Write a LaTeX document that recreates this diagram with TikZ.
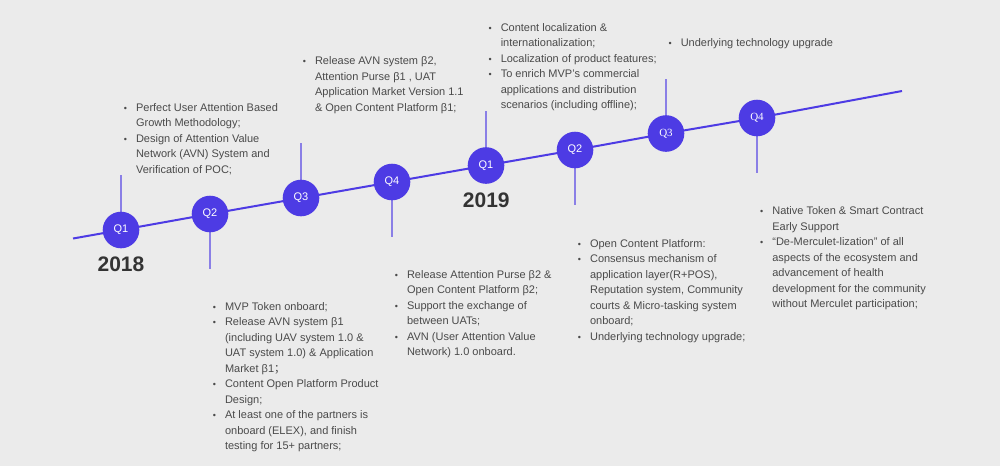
\documentclass[tikz,border=0pt]{standalone}
\usepackage{fontspec}
\setmainfont{Liberation Sans}
\newfontfamily\cjk{Noto Sans CJK SC}
\newfontfamily\serifq{Liberation Serif}
\usetikzlibrary{backgrounds}
\definecolor{bgc}{HTML}{EBEBEB}
\definecolor{qfill}{HTML}{4D3BE4}
\definecolor{linec}{HTML}{4D3BE4}
\definecolor{stemc}{HTML}{8A7FE6}
\definecolor{txt}{HTML}{4A4A4A}
\definecolor{yearc}{HTML}{333333}
\newcommand\bul{{\fontsize{9}{9}\selectfont\textbullet}}
\newcommand\blist[1]{\begin{tabular}[t]{@{}l@{\hspace{9.1pt}}l@{}}#1\end{tabular}}
\tikzset{
  qnode/.style={circle, fill=qfill, text=white, minimum size=36.6pt, inner sep=0pt, font=\fontsize{11}{13}\selectfont},
  stemline/.style={draw=stemc, line width=1.3pt},
  mainline/.style={draw=linec, line width=2pt},
  blk/.style={anchor=base west, inner sep=0pt, text=txt, font=\fontsize{11}{15.5}\selectfont},
  yearlbl/.style={anchor=base, inner sep=0pt, text=yearc, font=\bfseries\fontsize{21}{25}\selectfont}
}
\begin{document}
\begin{tikzpicture}[x=1pt,y=-1pt]
\useasboundingbox (0,0) rectangle (1000,466);
% circles
\node[qnode] (a1) at (121,230) {Q1};
\node[qnode] (a2) at (210,214) {Q2};
\node[qnode] (a3) at (301,198) {Q3};
\node[qnode] (a4) at (392,182) {Q4};
\node[qnode] (b1) at (486,165.5) {Q1};
\node[qnode] (b2) at (575,150) {Q2};
\node[qnode, font=\serifq\fontsize{11}{13}\selectfont] (b3) at (666,133.5) {Q3};
\node[qnode, font=\serifq\fontsize{11}{13}\selectfont] (b4) at (757,118) {Q4};
\coordinate (s) at (73,238.5);
\coordinate (e) at (902,91);
\coordinate (a1t) at (121,175);
\coordinate (a2t) at (210,269);
\coordinate (a3t) at (301,143);
\coordinate (a4t) at (392,237);
\coordinate (b1t) at (486,111);
\coordinate (b2t) at (575,205);
\coordinate (b3t) at (666,79);
\coordinate (b4t) at (757,173);
\begin{scope}[on background layer]
\fill[bgc] (0,0) rectangle (1000,466);
\draw[stemline] (a1.center) -- (a1t);
\draw[stemline] (a2.center) -- (a2t);
\draw[stemline] (a3.center) -- (a3t);
\draw[stemline] (a4.center) -- (a4t);
\draw[stemline] (b1.center) -- (b1t);
\draw[stemline] (b2.center) -- (b2t);
\draw[stemline] (b3.center) -- (b3t);
\draw[stemline] (b4.center) -- (b4t);
\draw[mainline] (s) -- (a1.center) -- (a2.center) -- (a3.center) -- (a4.center) -- (b1.center) -- (b2.center) -- (b3.center) -- (b4.center) -- (e);
\end{scope}
% years
\node[yearlbl] (y18) at (121,271) {2018};
\node[yearlbl] (y19) at (486.3,207) {2019};
% text blocks
\node[blk] (t1) at (123.6,111) {\blist{%
\bul & Perfect User Attention Based\\
 & Growth Methodology;\\
\bul & Design of Attention Value\\
 & Network (AVN) System and\\
 & Verification of POC;}};
\node[blk] (t2) at (212.6,310) {\blist{%
\bul & MVP Token onboard;\\
\bul & Release AVN system β1\\
 & (including UAV system 1.0 \&\\
 & UAT system 1.0) \& Application\\
 & Market β1{\cjk ；}\\
\bul & Content Open Platform Product\\
 & Design;\\
\bul & At least one of the partners is\\
 & onboard (ELEX), and finish\\
 & testing for 15+ partners;}};
\node[blk] (t3) at (302.6,64.7) {\blist{%
\bul & Release AVN system β2,\\
 & Attention Purse β1 , UAT\\
 & Application Market Version 1.1\\
 & \& Open Content Platform β1;}};
\node[blk] (t4) at (394.6,278) {\blist{%
\bul & Release Attention Purse β2 \&\\
 & Open Content Platform β2;\\
\bul & Support the exchange of\\
 & between UATs;\\
\bul & AVN (User Attention Value\\
 & Network) 1.0 onboard.}};
\node[blk] (t5) at (488.3,31.3) {\blist{%
\bul & Content localization \&\\
 & internationalization;\\
\bul & Localization of product features;\\
\bul & To enrich MVP's commercial\\
 & applications and distribution\\
 & scenarios (including offline);}};
\node[blk] (t6) at (577.6,247.3) {\blist{%
\bul & Open Content Platform:\\
\bul & Consensus mechanism of\\
 & application layer(R+POS),\\
 & Reputation system, Community\\
 & courts \& Micro-tasking system\\
 & onboard;\\
\bul & Underlying technology upgrade;}};
\node[blk] (t7) at (668.3,46.3) {\blist{%
\bul & Underlying technology upgrade}};
\node[blk] (t8) at (759.9,214.7) {\blist{%
\bul & Native Token \& Smart Contract\\
 & Early Support\\
\bul & “De-Merculet-lization” of all\\
 & aspects of the ecosystem and\\
 & advancement of health\\
 & development for the community\\
 & without Merculet participation;}};
\end{tikzpicture}
\end{document}
